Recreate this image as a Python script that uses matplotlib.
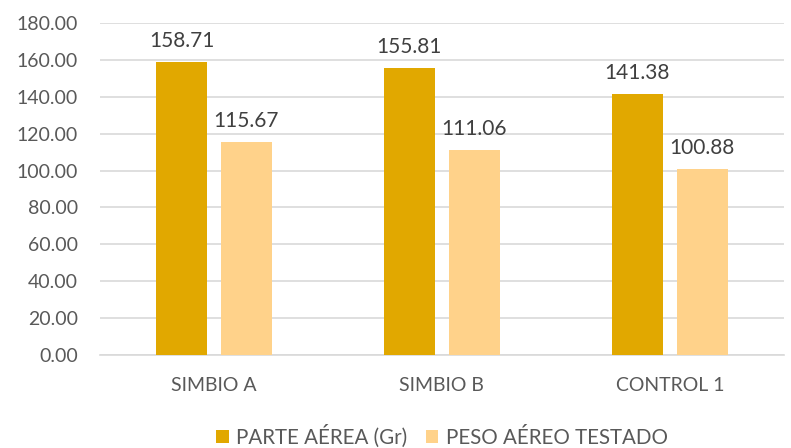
import matplotlib
matplotlib.use('Agg')
from matplotlib import pyplot as plt
import numpy as np

categories = ['SIMBIO A', 'SIMBIO B', 'CONTROL 1']
parte_aerea = [158.71, 155.81, 141.38]
peso_testado = [115.67, 111.06, 100.88]
series_names = ['PARTE AÉREA (Gr)', 'PESO AÉREO TESTADO']

plt.rcParams['font.family'] = ['Lato', 'DejaVu Sans']
txt = '#595959'

fig = plt.figure(figsize=(7.91, 4.48), dpi=100)
ax = fig.add_axes([0.1264, 0.2076, 0.8646, 0.7411])

x = np.arange(len(categories))
w = 0.224
off = 0.1425
b1 = ax.bar(x - off, parte_aerea, w, color='#E1A800', label=series_names[0], zorder=3)
b2 = ax.bar(x + off, peso_testado, w, color='#FFD28A', label=series_names[1], zorder=3)

for bars, vals in ((b1, parte_aerea), (b2, peso_testado)):
    for r, v in zip(bars, vals):
        ax.text(r.get_x() + r.get_width() / 2, v + 6, '%.2f' % v,
                ha='center', va='bottom', fontsize=15, color='#404040')

ax.set_xlim(-0.5, 2.5)
ax.set_ylim(0, 180)
ax.set_yticks(np.arange(0, 181, 20))
ax.set_yticklabels(['%.2f' % v for v in np.arange(0, 181, 20)])
ax.set_xticks(x)
ax.set_xticklabels(categories)
ax.yaxis.grid(True, color='#D9D9D9', linewidth=1.2, zorder=0)
for s in ['top', 'right', 'left']:
    ax.spines[s].set_visible(False)
ax.spines['bottom'].set_color('#D9D9D9')
ax.spines['bottom'].set_linewidth(1.2)
ax.tick_params(axis='both', length=0, labelsize=14, labelcolor=txt)
ax.tick_params(axis='x', pad=16)
ax.tick_params(axis='y', pad=16)

leg = ax.legend(loc='lower center', bbox_to_anchor=(0.5, -0.335), ncol=2, frameon=False,
                fontsize=14.8, handlelength=0.62, handleheight=0.62, handletextpad=0.35,
                columnspacing=0.9)
for t in leg.get_texts():
    t.set_color(txt)

fig.savefig('out.png', dpi=100)
